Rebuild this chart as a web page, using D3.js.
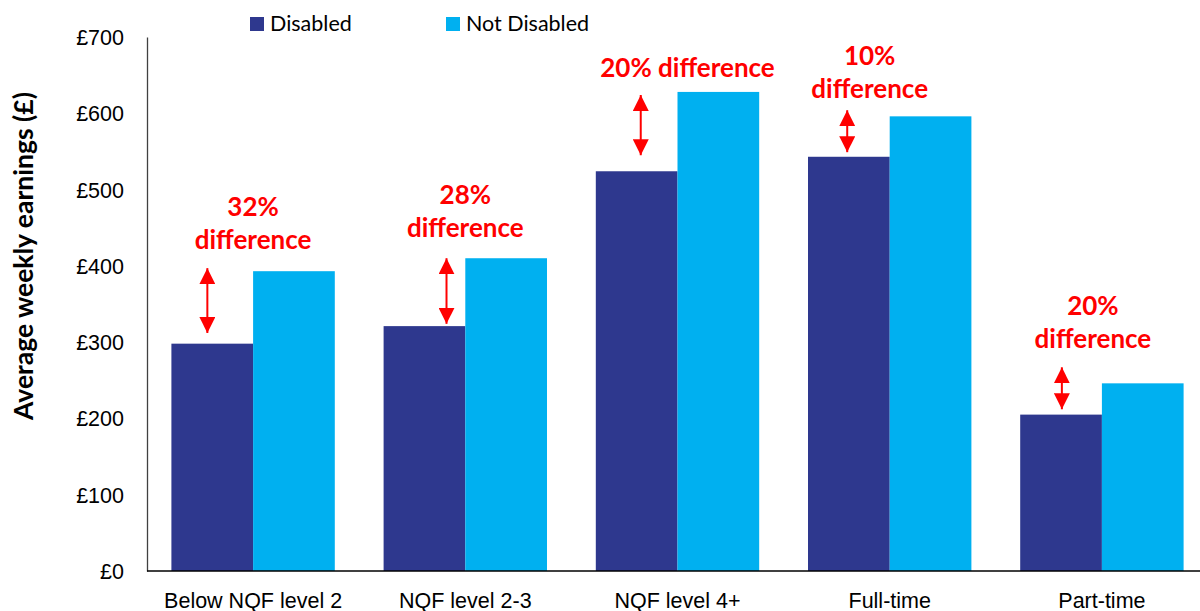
<!DOCTYPE html>
<html>
<head>
<meta charset="utf-8">
<script src="https://cdn.jsdelivr.net/npm/d3@7"></script>
<style>
  html, body { margin: 0; padding: 0; background: #fff; }
  svg { display: block; font-family: Lato, "Open Sans", sans-serif; }
</style>
</head>
<body>
<svg id="chart" width="1200" height="611"></svg>
<script>
// Average weekly earnings by qualification level and working pattern
const categories = ["Below NQF level 2", "NQF level 2-3", "NQF level 4+", "Full-time", "Part-time"];
const seriesNames = ["Disabled", "Not Disabled"];
const disabled = [298, 321, 524, 543, 205];
const notDisabled = [393, 410, 628, 596, 246];
const yTicks = [0, 100, 200, 300, 400, 500, 600, 700];

// Gap annotations: label lines and arrow ends (in £)
const gapLabels = [["32%", "difference"], ["28%", "difference"], ["20% difference"], ["10%", "difference"], ["20%", "difference"]];
const arrowTop = [397, 410, 624, 604, 267];
const arrowBottom = [312, 324, 545, 549, 212];

const colors = { "Disabled": "#2E388E", "Not Disabled": "#00B0F0" };
const red = "#FF0000";

const svg = d3.select("#chart");
const plotLeft = 147, plotRight = 1208, plotTop = 37, plotBottom = 571;

const x = d3.scaleBand().domain(categories).range([plotLeft, plotRight]).paddingInner(0.23).paddingOuter(0.115);
const xs = d3.scaleBand().domain(seriesNames).range([0, x.bandwidth()]);
const y = d3.scaleLinear().domain([0, 700]).range([plotBottom, plotTop]);

// Bars
const rows = categories.map((c, i) => ({ cat: c, values: [
  { key: "Disabled", v: disabled[i] },
  { key: "Not Disabled", v: notDisabled[i] }
]}));

const g = svg.append("g").selectAll("g").data(rows).join("g")
  .attr("transform", d => `translate(${x(d.cat)},0)`);
g.selectAll("rect").data(d => d.values).join("rect")
  .attr("x", d => xs(d.key))
  .attr("width", xs.bandwidth())
  .attr("y", d => y(d.v))
  .attr("height", d => y(0) - y(d.v))
  .attr("fill", d => colors[d.key]);

// Y axis
const yAxis = svg.append("g").attr("transform", `translate(${plotLeft},0)`)
  .call(d3.axisLeft(y).tickValues(yTicks).tickSize(0).tickPadding(23).tickFormat(d => "£" + d));
yAxis.select(".domain").attr("stroke", "#404040").attr("stroke-width", 1.3);
yAxis.selectAll("text").attr("font-size", 21.5).attr("fill", "#000").attr("dy", "0.35em");

// X axis
const xAxis = svg.append("g").attr("transform", `translate(0,${plotBottom})`)
  .call(d3.axisBottom(x).tickSize(0).tickPadding(0));
xAxis.select(".domain").remove();
svg.append("line").attr("x1", plotLeft).attr("x2", 1200).attr("y1", plotBottom).attr("y2", plotBottom)
  .attr("stroke", "#000").attr("stroke-width", 1.3);
xAxis.selectAll("text").attr("font-size", 21.5).attr("fill", "#000").attr("y", 36.5).attr("dy", 0);

// Y axis title
svg.append("text")
  .attr("transform", `translate(33,256) rotate(-90)`)
  .attr("text-anchor", "middle")
  .attr("font-size", 26.5).attr("font-weight", "bold").attr("fill", "#000")
  .text("Average weekly earnings (£)");

// Legend
const legend = svg.append("g");
const legendX = [250, 446];
seriesNames.forEach((s, i) => {
  legend.append("rect").attr("x", legendX[i]).attr("y", 17).attr("width", 14).attr("height", 14).attr("fill", colors[s]);
  legend.append("text").attr("x", legendX[i] + 20).attr("y", 31).attr("font-size", 21.5).attr("fill", "#000").text(s);
});

// Arrows and labels
const defs = svg.append("defs");
defs.append("marker").attr("id", "head").attr("viewBox", "0 0 10 10")
  .attr("refX", 10).attr("refY", 5).attr("markerWidth", 16).attr("markerHeight", 16)
  .attr("markerUnits", "userSpaceOnUse").attr("orient", "auto-start-reverse")
  .append("path").attr("d", "M0,0 L10,5 L0,10 Z").attr("fill", red);

const arrowShift = [0.44, 0.77, 0.55, 0.48, 0.51]; // position within the Disabled bar
const labelShift = [0, 0, 10, -20, -9];              // label offset from group centre
const labelGap = [19, 21, 18, 12, 19];               // space between label and arrow tip
categories.forEach((c, i) => {
  const ax = x(c) + xs("Disabled") + xs.bandwidth() * arrowShift[i];
  svg.append("line")
    .attr("x1", ax).attr("x2", ax)
    .attr("y1", y(arrowTop[i])).attr("y2", y(arrowBottom[i]))
    .attr("stroke", red).attr("stroke-width", 2)
    .attr("marker-start", "url(#head)").attr("marker-end", "url(#head)");

  const lines = gapLabels[i];
  const lastBaseline = y(arrowTop[i]) - labelGap[i];
  const cx = x(c) + x.bandwidth() / 2 + labelShift[i];
  lines.forEach((t, k) => {
    svg.append("text")
      .attr("x", cx)
      .attr("y", lastBaseline - (lines.length - 1 - k) * 33.5)
      .attr("text-anchor", "middle")
      .attr("font-size", 26).attr("font-weight", "bold").attr("fill", red)
      .text(t);
  });
});
</script>
</body>
</html>
